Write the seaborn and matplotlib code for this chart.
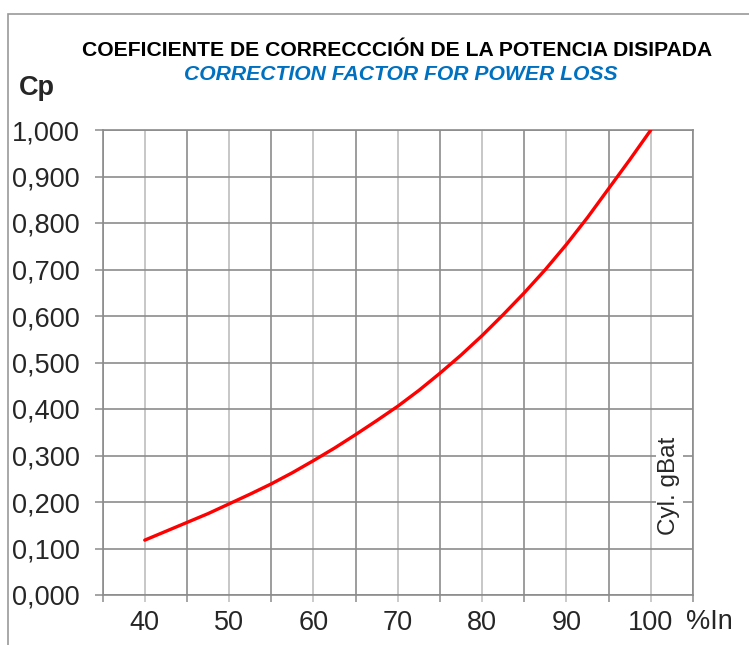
import numpy as np
import pandas as pd
import matplotlib
matplotlib.use("Agg")
import matplotlib.pyplot as plt
from matplotlib.patches import Rectangle
import seaborn as sns

# data
pct_in = [40, 42.5, 45, 47.5, 50, 52.5, 55, 57.5, 60, 62.5, 65, 67.5, 70,
          72.5, 75, 77.5, 80, 82.5, 85, 87.5, 90, 92.5, 95, 97.5, 100]
cp = [0.118, 0.137, 0.156, 0.175, 0.196, 0.217, 0.239, 0.263, 0.289, 0.316,
      0.345, 0.375, 0.406, 0.440, 0.477, 0.516, 0.558, 0.603, 0.650, 0.700,
      0.754, 0.812, 0.874, 0.936, 1.000]

x_labels = [40, 50, 60, 70, 80, 90, 100]
x_edges = [35, 45, 55, 65, 75, 85, 95, 105]
y_ticks = [0.0, 0.1, 0.2, 0.3, 0.4, 0.5, 0.6, 0.7, 0.8, 0.9, 1.0]
y_labels = ["0,000", "0,100", "0,200", "0,300", "0,400", "0,500",
            "0,600", "0,700", "0,800", "0,900", "1,000"]

title_es = "COEFICIENTE DE CORRECCCIÓN DE LA POTENCIA DISIPADA"
title_en = "CORRECTION FACTOR FOR POWER LOSS"

df = pd.DataFrame({"pct": pct_in, "cp": cp})

sns.set_style("white")
plt.rcParams['font.family'] = ['Liberation Sans', 'DejaVu Sans']

W, H = 749, 645
fig = plt.figure(figsize=(W / 100, H / 100), dpi=100)
ax = fig.add_axes([102.6 / W, 1 - 595 / H, (693 - 102.6) / W, (595 - 130) / H])

dark = "#8c8c8c"
light = "#bdbdbd"

sns.lineplot(data=df, x="pct", y="cp", color="#ff0000", linewidth=2.4, ax=ax, zorder=5)

ax.set_xlim(35, 105)
ax.set_ylim(0, 1)

ax.set_xticks(x_labels)
ax.set_xticklabels([str(v) for v in x_labels], fontsize=19.5)
ax.set_xticks(x_edges, minor=True)
ax.set_yticks(y_ticks)
ax.set_yticklabels(y_labels, fontsize=19.5)

ax.grid(True, which="major", axis="x", color=light, linewidth=1.2)
ax.grid(True, which="minor", axis="x", color=dark, linewidth=1.2)
ax.grid(True, which="major", axis="y", color=dark, linewidth=1.2)

ax.tick_params(axis="x", which="both", direction="out", length=5, width=1.1,
               bottom=True, pad=6)
ax.tick_params(axis="x", which="major", color=light)
ax.tick_params(axis="x", which="minor", color=dark)
ax.tick_params(axis="y", which="major", direction="out", length=5.5, width=1.1,
               left=True, color=dark, pad=11)

for s in ax.spines.values():
    s.set_color(dark)
    s.set_linewidth(1.2)

ax.set_xlabel("")
ax.set_ylabel("")

# titles and labels
fig.text(397 / W, 1 - 50 / H, title_es, ha="center", va="center",
         fontsize=15.2, fontweight="bold", color="black")
fig.text(401 / W, 1 - 75 / H, title_en, ha="center", va="center",
         fontsize=15.2, fontweight="bold", style="italic", color="#0070c0")
fig.text(19 / W, 1 - 88 / H, "Cp", ha="left", va="center",
         fontsize=19.5, fontweight="bold")
fig.text(686 / W, 1 - 622 / H, "%In", ha="left", va="center", fontsize=19.5)

# watermark-like label with white box
ax.text(100.9, 0.235, "Cyl. gBat", rotation=90, ha="left", va="center",
        fontsize=17.5, zorder=6,
        bbox=dict(facecolor="white", edgecolor="none", pad=1.5))

# outer frame of chart area
fig.patches.append(Rectangle((8 / W, -0.1), 1.2, 1 - 14 / H + 0.1,
                             transform=fig.transFigure, fill=False,
                             edgecolor="#999999", linewidth=1.2))

fig.savefig("out.png", dpi=100)
